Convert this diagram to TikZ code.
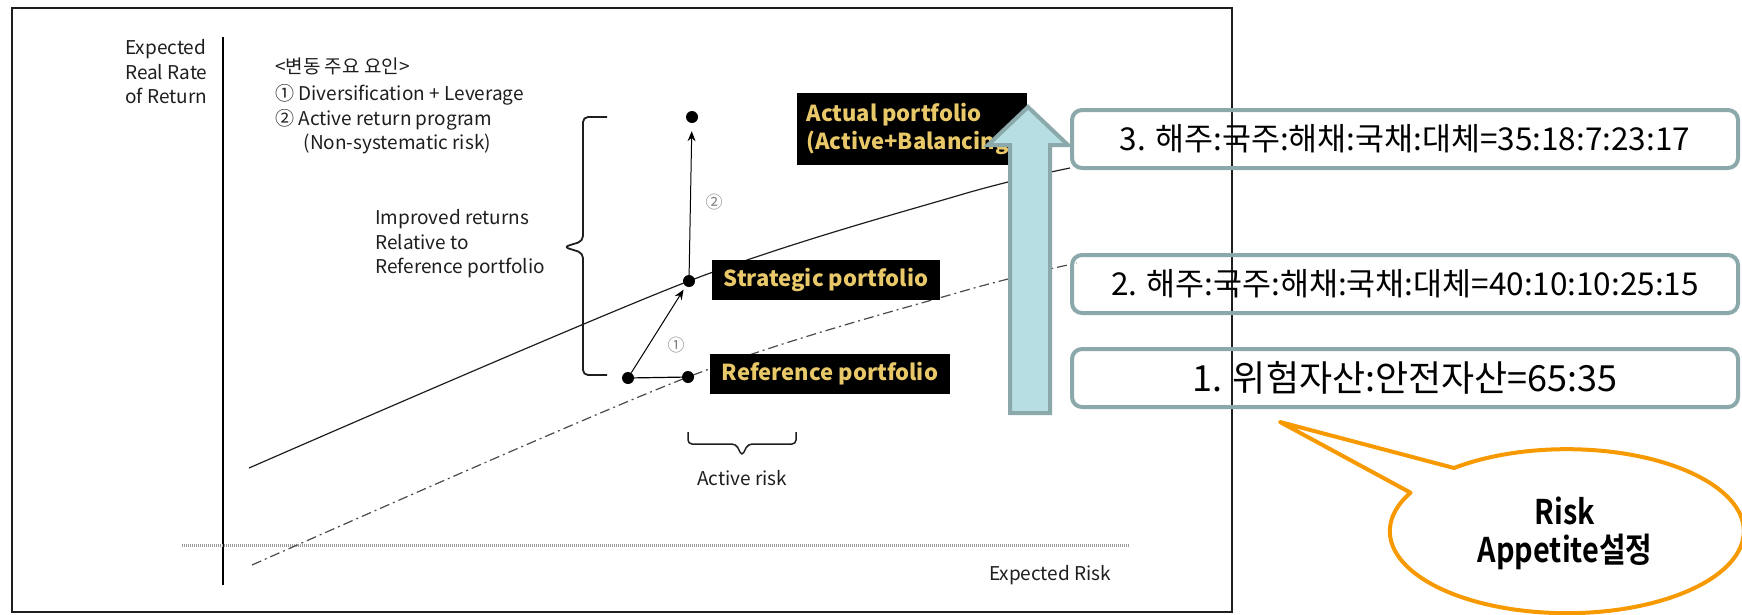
\documentclass[tikz,border=0pt]{standalone}
\usepackage{fontspec}
\setmainfont{Noto Sans CJK KR}
\newfontfamily\calloutfont[FakeStretch=0.85]{Noto Sans CJK KR Bold}
\usepackage{tikz}
\usetikzlibrary{arrows.meta, positioning}
\definecolor{boxline}{RGB}{139,168,170}
\definecolor{arrowfill}{RGB}{183,222,226}
\definecolor{callout}{RGB}{247,153,0}
\definecolor{gold}{RGB}{232,200,104}
\definecolor{ink}{RGB}{30,30,30}

\begin{document}
\begin{tikzpicture}[x=1pt, y=-1pt, >={Stealth[length=10pt, width=8pt]},
  dot/.style={circle, fill=black, inner sep=0pt, minimum size=12pt},
  chart/.style={text=ink, font=\fontsize{19}{24.5}\selectfont, inner sep=0pt, align=left},
  blackbox/.style={fill=black, text=gold, font=\fontsize{22}{28}\selectfont\bfseries, inner sep=0pt, minimum height=40pt},
  ratiobox/.style={draw=boxline, line width=4pt, rounded corners=10pt, minimum width=666pt, minimum height=58pt, inner sep=0pt}]
\useasboundingbox (0,0) rectangle (1742,614);
% chart frame and axes
\draw[ink, line width=2pt] (12,8) rectangle (1232,612);
\draw[black, line width=1.8pt] (223,37) -- (223,585);
\draw[gray!80, line width=3pt, dash pattern=on 1pt off 1pt] (182,545) -- (1129,545);
\node[chart, anchor=west] (ylab) at (125,72) {Expected\\Real Rate\\of Return};
\node[chart, anchor=west] (drivers) at (275,106) {<변동 주요 요인>\\[3pt]① Diversification + Leverage\\② Active return program\\\hspace*{1.5em}(Non-systematic risk)};
\node[chart, anchor=west] (improved) at (375,244) {Improved returns\\Relative to\\Reference portfolio};
\node[chart] (xlab) at (1050,575) {Expected Risk};
% return lines
\draw[ink, line width=1.2pt] plot[smooth] coordinates {(249,468) (689,281) (960,195) (1070,168)};
\draw[ink!80, line width=1.2pt, dash pattern=on 10pt off 4pt on 2pt off 4pt] plot[smooth] coordinates {(252,565) (688,377) (960,292) (1077,263)};
% portfolios
\node[dot] (base) at (628,378) {};
\node[dot] (refdot) at (688,377) {};
\node[dot] (stratdot) at (689,281) {};
\node[dot] (actdot) at (692,117) {};
\draw[->, line width=1pt, shorten >=4pt] (base) -- (stratdot);
\draw[line width=1.2pt] (base) -- (refdot);
\draw[->, line width=1pt, shorten >=8pt] (stratdot) -- (actdot);
\node[chart, text=gray, font=\fontsize{17}{20}\selectfont] (one) at (676,345) {①};
\node[chart, text=gray, font=\fontsize{17}{20}\selectfont] (two) at (714,202) {②};
\draw[ink, line width=1.8pt, rounded corners=5pt] (607,117) -- (583,117) -- (583,241) -- (564,247) -- (583,253) -- (583,375) -- (607,375);
\draw[ink, line width=1.5pt, rounded corners=4pt] (688,432) -- (688,444) -- (736,444) -- (742,456) -- (748,444) -- (796,444) -- (796,432);
\node[chart] (activerisk) at (742,478) {Active risk};
\node[blackbox, minimum width=228pt] (strat) at (826,280) {Strategic\ portfolio};
\node[blackbox, minimum width=240pt] (refp) at (830,374) {Reference portfolio};
\node[blackbox, minimum width=230pt, minimum height=72pt, align=left] (actual) at (912,129) {Actual portfolio\\(Active+Balancing)};
% allocation steps
\draw[boxline, fill=arrowfill, line width=4pt] (1010,413) -- (1010,145) -- (988,145) -- (1028,107) -- (1068,145) -- (1050,145) -- (1050,413) -- cycle;
\node[ratiobox, font=\fontsize{31.5}{36}\selectfont] (step3) at (1405,139) {3. 해주:국주:해채:국채:대체=35:18:7:23:17};
\node[ratiobox, font=\fontsize{31.5}{36}\selectfont] (step2) at (1405,284) {2. 해주:국주:해채:국채:대체=40:10:10:25:15};
\node[ratiobox, font=\fontsize{36}{44}\selectfont] (step1) at (1405,378) {1. 위험자산:안전자산=65:35};
% callout
\coordinate (tip) at (1280,422);
\draw[callout, line width=4pt, fill=white, line join=round] (1454,468) arc[start angle=230.4, end angle=568, x radius=177, y radius=82] -- (tip) -- cycle;
\node[font=\calloutfont\fontsize{34}{38}\selectfont, align=center, inner sep=0pt] (appetite) at (1565,533) {Risk\\Appetite설정};
\end{tikzpicture}
\end{document}
